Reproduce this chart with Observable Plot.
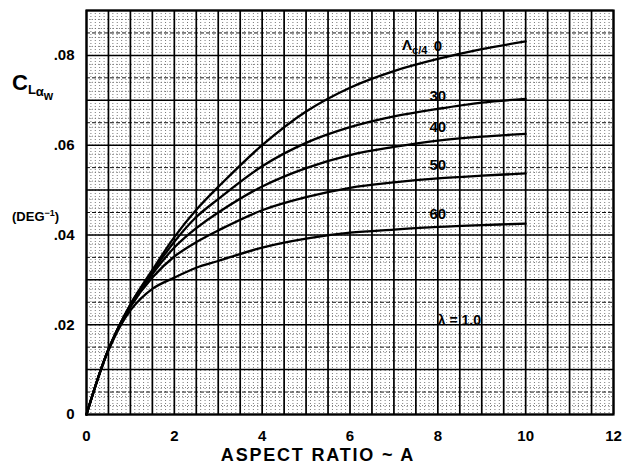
<!DOCTYPE html>
<html>
<head>
<meta charset="utf-8">
<script src="https://cdn.jsdelivr.net/npm/d3@7"></script>
<script src="https://cdn.jsdelivr.net/npm/@observablehq/plot@0.6"></script>
<style>
  html, body { margin: 0; padding: 0; background: #fff; }
  #chart svg { display: block; }
</style>
</head>
<body>
<div id="chart"></div>
<script>
// Wing lift-curve slope vs aspect ratio, taper ratio 1.0, per quarter-chord sweep angle
const aspectRatio = [0, 0.5, 1, 1.5, 2, 2.5, 3, 4, 5, 6, 7, 8, 9, 10];
const sweep0  = [0, 0.0145, 0.0245, 0.0322, 0.0395, 0.0456, 0.0507, 0.0600, 0.0675, 0.0728, 0.0765, 0.0792, 0.0814, 0.0831];
const sweep30 = [0, 0.0145, 0.0245, 0.0318, 0.0385, 0.0440, 0.0480, 0.0553, 0.0605, 0.0640, 0.0664, 0.0681, 0.0695, 0.0703];
const sweep40 = [0, 0.0145, 0.0243, 0.0313, 0.0372, 0.0415, 0.0450, 0.0508, 0.0549, 0.0578, 0.0596, 0.0610, 0.0619, 0.0625];
const sweep50 = [0, 0.0145, 0.0240, 0.0305, 0.0352, 0.0384, 0.0410, 0.0455, 0.0484, 0.0505, 0.0517, 0.0526, 0.0532, 0.0537];
const sweep60 = [0, 0.0143, 0.0232, 0.0280, 0.0305, 0.0327, 0.0342, 0.0372, 0.0392, 0.0405, 0.0412, 0.0418, 0.0422, 0.0425];

const sweepNames = ["0", "30", "40", "50", "60"];
const sweepSeries = [sweep0, sweep30, sweep40, sweep50, sweep60];
const labelAspect = 8;   // curve labels sit on the A = 8 grid line

const xTicks = [0, 2, 4, 6, 8, 10, 12];
const yTicks = [0, 0.02, 0.04, 0.06, 0.08];
const yTickLabels = ["0", ".02", ".04", ".06", ".08"];

const xTitle = "ASPECT RATIO ~ A";
const taperLabel = "λ = 1.0";

// long table for the line mark
const rows = sweepSeries.flatMap((vals, s) =>
  vals.map((v, i) => ({sweep: sweepNames[s], A: aspectRatio[i], clw: v})));

const labelRows = sweepSeries.map((vals, s) => ({
  name: sweepNames[s],
  A: labelAspect,
  clw: vals[aspectRatio.indexOf(labelAspect)]
}));

const font = "Liberation Sans, Arial, sans-serif";

// graph-paper rulings
const minorX = d3.range(0, 120.5, 1).map(d => d / 10);
const minorY = d3.range(0, 45.5, 1).map(d => d / 500);
const halfY = d3.range(0, 9, 1).map(d => d / 100 + 0.005);
const majorX = d3.range(0, 24.5, 1).map(d => d / 2);
const majorY = d3.range(0, 9.5, 1).map(d => d / 100);

const plot = Plot.plot({
  width: 625,
  height: 464,
  marginLeft: 86,
  marginRight: 12,
  marginTop: 10,
  marginBottom: 50,
  style: {fontFamily: font, background: "#fff", color: "#000"},
  x: {domain: [0, 12]},
  y: {domain: [0, 0.09]},
  marks: [
    Plot.ruleX(minorX, {stroke: "#555", strokeWidth: 0.8, strokeDasharray: "1,2"}),
    Plot.ruleY(minorY, {stroke: "#666", strokeWidth: 0.8, strokeDasharray: "1,2"}),
    Plot.ruleY(halfY, {stroke: "#111", strokeWidth: 1, strokeDasharray: "4,2"}),
    Plot.ruleX(majorX, {stroke: "#000", strokeWidth: 1.7}),
    Plot.ruleY(majorY, {stroke: "#000", strokeWidth: 1.5}),
    Plot.frame({stroke: "#000", strokeWidth: 2.2}),
    Plot.line(rows, {x: "A", y: "clw", z: "sweep", stroke: "#000", strokeWidth: 2.3, curve: "catmull-rom"}),
    Plot.text(labelRows, {x: "A", y: "clw", text: "name", dy: -13, fontSize: 15, fontWeight: "bold", fill: "#000"}),
    Plot.text([taperLabel], {x: labelAspect, y: 0.021, text: d => d, textAnchor: "start", fontSize: 14, fontWeight: "bold", fill: "#000"}),
    Plot.axisX(xTicks, {tickSize: 0, tickPadding: 16, fontSize: 15, fontWeight: "bold", label: null}),
    Plot.axisY(yTicks, {tickSize: 0, tickPadding: 12, fontSize: 15, fontWeight: "bold", label: null,
      tickFormat: d => yTickLabels[yTicks.indexOf(d)]})
  ]
});

document.getElementById("chart").appendChild(plot);

// axis titles and sweep annotation
const svg = d3.select(plot);
const sx = plot.scale("x"), sy = plot.scale("y");

svg.append("text")
  .attr("x", 318).attr("y", 461)
  .attr("text-anchor", "middle")
  .attr("font-family", font).attr("font-size", 18).attr("font-weight", "bold")
  .attr("letter-spacing", 1.8)
  .text(xTitle);

const cl = svg.append("text")
  .attr("x", 12).attr("y", 90)
  .attr("text-anchor", "start")
  .attr("font-family", font).attr("font-weight", "bold").attr("fill", "#000");
cl.append("tspan").attr("font-size", 22).text("C");
cl.append("tspan").attr("font-size", 13).attr("dy", 4).text("L");
cl.append("tspan").attr("font-size", 13).attr("dy", 2).text("α");
cl.append("tspan").attr("font-size", 12).attr("dy", 4).text("w");

const deg = svg.append("text")
  .attr("x", 12).attr("y", 221)
  .attr("text-anchor", "start")
  .attr("font-family", font).attr("font-weight", "bold").attr("font-size", 13);
deg.append("tspan").text("(DEG");
deg.append("tspan").attr("font-size", 9).attr("dy", -5).text("−1");
deg.append("tspan").attr("dy", 5).text(")");

const lam = svg.append("text")
  .attr("x", sx.apply(labelAspect) - 10)
  .attr("y", sy.apply(labelRows[0].clw) - 13 + 5)
  .attr("text-anchor", "end")
  .attr("font-family", font).attr("font-weight", "bold");
lam.append("tspan").attr("font-size", 15).text("Λ");
lam.append("tspan").attr("font-size", 11).attr("dy", 4).text("c/4");
</script>
</body>
</html>
